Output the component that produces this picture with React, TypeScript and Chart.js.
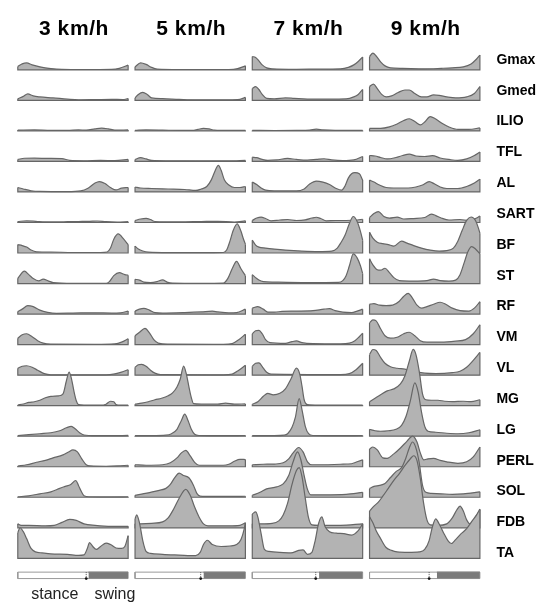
import React, { useEffect, useRef } from "react";
import { Chart, registerables } from "chart.js";

Chart.register(...registerables);

type Curve = [number, number][];

// ---- categories ----
const SPEEDS = ["3 km/h", "5 km/h", "7 km/h", "9 km/h"];
const MUSCLES = ["Gmax", "Gmed", "ILIO", "TFL", "AL", "SART", "BF", "ST", "RF", "VM", "VL", "MG", "LG", "PERL", "SOL", "FDB", "TA"];
const PHASES = ["stance", "swing"];

// ---- EMG envelopes: [% gait cycle, amplitude] per speed ----
const GMAX: Curve[] = [
  [[0,3.3],[4,6],[8,7],[13,5],[20,3],[30,1.3],[40,0.5],[60,0.3],[85,0.5],[92,1.5],[100,4.7]],
  [[0,3],[5,7],[10,5.5],[15,2.5],[20,0.8],[40,0.3],[85,0.3],[93,1.2],[100,4]],
  [[0,13.5],[3,12.5],[6,9],[9,5],[13,2],[18,1],[40,0.5],[60,0.7],[80,1],[87,2.5],[92,5],[96,8.5],[100,13]],
  [[0,13.5],[3,17],[6,14],[10,8],[14,4],[19,2],[30,1.5],[50,1],[65,1.5],[75,2],[85,3],[92,6],[97,11],[100,15]],
];
const GMED: Curve[] = [
  [[0,1.5],[5,4],[9,6.5],[14,4.5],[20,3.5],[32,2.5],[45,1.2],[55,0.5],[70,0.7],[85,1],[95,0.8],[100,1.8]],
  [[0,2.5],[3,6],[7,8],[11,6],[15,2.5],[25,1.7],[40,1],[55,0.5],[85,0.5],[95,1],[100,3]],
  [[0,12],[3,14],[6,11],[9,6],[13,2],[20,1.5],[30,2.5],[38,2],[50,1.3],[70,1.3],[85,1.5],[92,3.5],[96,6],[100,11]],
  [[0,14],[3.5,16.5],[7,12],[11,6],[15,3.5],[20,4.5],[26,8],[32,10.5],[36,10.5],[41,7],[47,3.5],[52,3.5],[58,5.5],[63,5],[70,3.5],[78,2.5],[88,3.5],[95,7],[100,14]],
];
const ILIO: Curve[] = [
  [[0,0.8],[15,1],[30,0.5],[45,0.5],[55,1],[62,0.8],[70,2],[76,2.7],[82,2],[88,0.8],[100,1]],
  [[0,0.5],[10,1],[25,0.8],[40,0.5],[52,0.5],[57,1.5],[62,2.5],[67,2],[72,0.8],[85,0.5],[100,0.5]],
  [[0,0.5],[20,0.4],[40,0.5],[52,0.8],[58,1.7],[64,1],[75,0.5],[100,0.5]],
  [[0,2.5],[10,2.5],[18,4],[25,7],[31,10.5],[36,12.3],[41,9.5],[46,6],[50,9],[55,14.5],[60,12],[66,7.5],[72,4],[80,1.5],[90,1.5],[100,3]],
];
const TFL: Curve[] = [
  [[0,2],[6,3.2],[15,3.3],[28,3],[40,2.8],[47,1],[60,0.6],[75,1],[88,0.8],[100,2]],
  [[0,2],[5,3.8],[10,2.5],[15,1],[30,0.6],[60,0.5],[85,0.5],[100,1]],
  [[0,4.3],[4,3.8],[9,2],[14,1],[22,1.5],[32,3],[40,2],[50,1.3],[58,2],[65,2.7],[72,1.5],[82,0.8],[92,1.5],[100,5]],
  [[0,6],[5,5.5],[10,4],[16,2.5],[24,4],[30,6],[36,7.3],[42,5.5],[50,5],[57,5.8],[64,3.5],[72,2],[80,1],[88,2.5],[95,6],[100,9.5]],
];
const AL: Curve[] = [
  [[0,4.5],[5,3],[12,1.2],[20,0.5],[45,0.3],[57,1],[64,4],[70,9],[74,10.5],[79,8.5],[84,4.5],[89,2],[94,3.8],[100,4.5]],
  [[0,5],[5,4],[15,3.5],[30,3],[45,2.5],[55,1.5],[60,3],[65,5.5],[69,12],[72,20],[75.5,27],[78,22],[81,12],[85,7],[90,4.5],[95,4.5],[100,5.5]],
  [[0,10],[4,7.5],[8,4],[12,1.8],[20,1],[40,1],[47,3],[52,8],[58,11],[64,10],[70,7.5],[76,3.5],[81,1.8],[84,6],[87,14],[90,18.5],[93,19.5],[97,18.5],[100,12]],
  [[0,12],[4,10],[9,7],[15,4.5],[25,4],[35,4],[42,5],[48,7],[54,10.5],[59,8],[64,5],[70,3.5],[80,3.5],[88,5.5],[95,9],[100,13]],
];
const SART: Curve[] = [
  [[0,1],[8,1.6],[18,1],[30,0.6],[45,0.8],[55,1],[65,1.2],[72,1.5],[80,0.8],[90,0.5],[100,0.8]],
  [[0,2],[5,3.5],[10,4.2],[14,3],[18,1],[40,0.7],[60,1],[75,1.2],[90,0.5],[100,1.7]],
  [[0,2],[4,4.5],[8,5.5],[12,4],[17,1.7],[25,2.5],[32,3],[40,2],[48,2.7],[54,4.5],[58,5.3],[62,4],[67,1.7],[75,2],[85,2],[95,2.5],[100,3.3]],
  [[0,5],[4,9],[8,11],[13,6],[18,4.5],[25,5.5],[31,3.5],[40,4],[50,5],[56,8.5],[60,7],[65,4.5],[72,2.5],[82,3],[90,2],[96,4],[100,6.5]],
];
const BF: Curve[] = [
  [[0,8.5],[4,7.5],[8,6],[12,3],[17,1.2],[30,1],[50,0.5],[75,0.5],[81,1],[84,5],[87,14],[91,19.3],[96,14],[100,8.5]],
  [[0,7],[3,4],[7,2],[12,0.8],[30,0.3],[60,0.3],[80,0.5],[83,3],[86,12],[89,23],[92.5,29.5],[96,22],[98,15],[100,9]],
  [[0,13],[3,8],[6,6],[12,5],[20,4],[30,3],[45,2],[60,1.5],[72,2],[77,5],[80,10],[84,18],[88,30],[91.5,37],[95,32],[98,22],[100,13]],
  [[0,21],[3,15],[7,11],[12,9.5],[17,8.5],[22,7],[29,12],[34,10],[40,7.5],[47,5],[55,3],[63,2],[70,2.5],[76,5],[80,12],[84,23],[88,33],[92,36.5],[96,33],[99,24],[100,20]],
];
const ST: Curve[] = [
  [[0,5.3],[6,12.5],[10,9],[14,5],[19,2.7],[23,4.5],[28,2.5],[32,1],[50,0.3],[80,0.3],[83,2],[87,8],[92,11],[97,9],[100,8.5]],
  [[0,4.3],[4,3.5],[8,1.5],[14,1],[20,2],[25,3.7],[29,1.5],[34,0.5],[60,0.3],[80,0.5],[84,5],[88,15],[92,22.5],[96,15],[100,8]],
  [[0,9],[3,6],[6,3.5],[10,2],[20,1.5],[50,1],[78,1.2],[82,3],[85,8],[88,18],[91.5,30],[95,26],[98,18],[100,10]],
  [[0,25],[3,19],[7,14],[10,13.5],[14,15.5],[18,11],[22,6],[27,3],[40,2.5],[52,3],[58,4.5],[64,3],[72,2.5],[78,3.5],[82,9],[86,22],[89,32],[92.5,37.5],[96,35],[100,30]],
];
const RF: Curve[] = [
  [[0,2.5],[4,5],[9,8.5],[14,7.5],[20,4],[27,1.8],[35,0.8],[50,1],[70,1.3],[85,1],[93,1.3],[100,3]],
  [[0,3],[4,5],[8,5.8],[13,4],[18,1.5],[25,1],[45,1.5],[60,2.2],[70,3],[75,2.2],[85,1.2],[92,1.5],[100,5]],
  [[0,6],[5,7.5],[10,5],[14,2],[20,2],[27,2.7],[40,3],[55,3.5],[65,5],[70,5.5],[75,3.5],[82,2],[90,1.5],[95,3],[100,5]],
  [[0,10],[4,10.5],[9,9],[15,8.5],[21,9],[27,13],[31,18],[35,21],[39,16],[43,9],[47,6],[52,7.5],[58,10],[64,12],[69,10],[75,6],[82,3.5],[90,3],[95,6],[100,12.5]],
];
const VM: Curve[] = [
  [[0,6.5],[4,10],[8,11],[13,8],[18,4],[23,1.5],[30,0.5],[70,0.3],[88,0.8],[94,2.5],[100,6]],
  [[0,9],[4,12.5],[9,16.5],[13,12],[17,5],[21,1.5],[30,0.5],[80,0.3],[88,1],[94,5],[100,10.5]],
  [[0,11],[3,14],[6,14.5],[9,11],[12,5],[16,2],[30,1.3],[36,3],[40,3.7],[45,2],[55,1],[80,0.8],[88,1.5],[93,4],[97,8],[100,11.5]],
  [[0,22],[3,25],[6,24],[10,16],[14,9],[19,6.5],[25,7.5],[31,11],[36,12.5],[41,9],[46,4],[52,2.5],[65,2.5],[78,3.5],[87,5],[94,11],[100,20]],
];
const VL: Curve[] = [
  [[0,7],[4,9],[8,9.5],[13,8],[18,5],[24,1.5],[30,0.3],[80,0.3],[88,1.3],[94,3],[100,5.5]],
  [[0,8],[3,10.5],[6,11],[10,9],[14,5],[18,2],[23,0.5],[80,0.3],[88,1],[94,5],[100,10]],
  [[0,9],[3,12],[6,12.5],[10,7],[13,3],[17,1],[80,0.5],[88,1.5],[94,5.5],[100,12]],
  [[0,21],[3,26],[6,25],[10,18],[14,12],[19,8.5],[25,7],[32,6],[40,4],[50,2],[60,1.5],[75,2.5],[82,4],[88,8],[94,15],[100,23]],
];
const MG: Curve[] = [
  [[0,0.7],[5,1.7],[10,3.3],[15,4],[20,5.5],[25,8],[30,9.5],[37,10],[41,12],[44,25],[46.5,34],[48.5,28],[51,14],[53,5],[55,1],[60,0.5],[75,0.5],[80,1.5],[84,4.5],[87,4],[89,1.2],[93,0.5],[100,0.5]],
  [[0,1.5],[6,2.5],[12,4],[18,6],[24,7.5],[30,10],[34,13],[38,19],[41,27],[44,40],[46.5,32],[49,18],[51,8],[53,2],[60,1.5],[75,1.5],[82,2.5],[90,1.5],[100,1.8]],
  [[0,1.5],[5,4],[10,9.5],[14,12.5],[19,11],[25,12.5],[30,17],[35,27],[40,38],[43,32],[45,20],[47,6],[50,1],[60,0.5],[100,0.5]],
  [[0,4],[5,7.5],[10,11],[16,15],[22,17],[28,22],[32,30],[36,45],[39.5,57],[42,52],[45,35],[48,12],[51,6],[56,5.5],[62,5.5],[68,4.5],[75,4],[85,4.5],[92,4],[100,6]],
];
const LG: Curve[] = [
  [[0,0.5],[10,1.5],[20,2.5],[30,3.5],[38,5.5],[44,8.5],[48.5,10],[52,7.5],[56,3.5],[60,1.2],[70,0.5],[85,0.5],[100,0.8]],
  [[0,0.5],[15,0.5],[28,1],[33,2.5],[38,7],[42,16],[45,22.3],[48,16],[51,7],[54,2],[58,0.7],[80,0.5],[100,0.7]],
  [[0,0.5],[20,0.5],[29,1],[32,2.5],[36,9],[39,19],[42.5,38],[45,27],[48,10],[51,2.5],[55,0.7],[80,0.5],[100,0.7]],
  [[0,7],[5,5.5],[10,5],[17,5.5],[24,7],[29,11],[33,20],[37,36],[41,54],[44,45],[47,25],[50,10],[53,5],[60,4],[70,3],[80,2.5],[90,3.5],[100,6.5]],
];
const PERL: Curve[] = [
  [[0,0.7],[8,2],[17,4.5],[25,6.5],[32,9],[41,12],[46,15],[50,17],[54,15],[58,8],[62,2],[66,0.8],[80,0.5],[90,0.8],[100,1.5]],
  [[0,2],[10,1.5],[25,2],[32,4],[38,9],[42,14],[46,16.5],[50,11],[54,4.5],[58,1.5],[70,1.5],[80,1.5],[85,2.5],[90,5.5],[95,7.5],[100,7.3]],
  [[0,2],[10,2.5],[20,2.7],[28,4],[33,8],[37,14],[42,19.5],[46,15],[50,5],[54,2],[65,2],[80,2.5],[90,3],[95,5],[100,7]],
  [[0,18],[3,20],[7,17],[12,9],[16,8.5],[22,13],[28,19],[34,26],[39,31],[43,25],[46,14],[49,7],[53,8],[58,8.5],[64,6.5],[70,5],[80,3.5],[88,5],[94,10],[100,20]],
];
const SOL: Curve[] = [
  [[0,0.5],[10,1.5],[20,3.5],[30,5.5],[38,9],[43,11],[48,13],[52.5,17],[55,12],[57.5,6],[60,1.5],[65,0.5],[85,0.3],[100,0.5]],
  [[0,2],[7,3.5],[14,5],[22,7],[28,9],[32,13],[36,20],[40,24.5],[44,22],[49,19.5],[53,12],[56,4],[59,1.2],[70,0.8],[90,0.8],[100,1]],
  [[0,2],[7,5],[13,8.5],[22,10.5],[28,13.5],[33,22],[37,36],[41,46],[44,38],[47,22],[50,8],[53,2.5],[65,2.5],[85,3],[100,5]],
  [[0,9],[4,11],[9,12],[14,14],[19,20],[24,26],[29,30],[33,40],[36,50],[39,56],[42,50],[45,35],[48,12],[51,5],[56,4],[65,3.5],[75,3],[85,3.5],[100,5.5]],
];
const FDB: Curve[] = [
  [[0,4],[3,2.5],[10,2.5],[25,2],[33,2.5],[40,5.5],[47,8.5],[53,7.5],[60,4],[70,2.5],[85,1.5],[100,1.5]],
  [[0,4],[5,4],[15,4.5],[25,6],[30,10],[35,19],[40,30],[46,39],[50,33],[54,21],[58,11],[62,4],[66,2],[85,2],[95,2.5],[100,5]],
  [[0,4],[8,4],[18,4.5],[24,7],[28,13],[32,25],[36,44],[40,58],[42.5,61],[45,52],[48,30],[51,10],[54,3],[60,2.5],[80,2.5],[100,4]],
  [[0,17],[4,22],[8,26],[12,32],[17,40],[22,48],[27,55],[32,63],[37,70],[40,73],[43,68],[46,50],[49,25],[52,8],[55,3],[62,2.5],[70,4],[75,10],[79,18],[82,22],[85,17],[88,8],[91,4],[95,9],[100,18]],
];
const TA: Curve[] = [
  [[0,26],[2,31],[5,27],[8,20],[12,10],[16,6.5],[22,5.5],[30,4.5],[45,4],[55,3],[60,3.5],[63,10],[65,16],[68,12],[71,9],[75,12],[80,15.5],[84,14],[89,10.5],[94,10],[97,12],[100,23]],
  [[0,40],[1.5,44],[4,36],[7,18],[10,7],[14,5],[25,4],[40,3.3],[55,2.7],[59,6],[62,14],[65.5,18.3],[70,14],[78,12],[86,12.5],[92,14],[96,19],[99,30],[100,36]],
  [[0,45],[3,47],[5,42],[8,25],[11,9],[15,7],[25,6],[35,5.5],[42,8],[46,8.5],[50,4],[54,6],[57,18],[60,35],[63,42],[66,32],[70,27],[76,25.5],[83,25],[90,23.5],[96,28],[100,35]],
  [[0,42],[3,36],[6,28],[10,20],[15,11],[20,8],[25,6.5],[35,6],[45,6.5],[50,9],[54,18],[57,32],[60,40],[63,35],[67,26],[71,18],[74,15],[78,19],[83,25],[88,30],[93,38],[97,44],[100,50]],
];

// gait phase bar: end of stance (toe-off mark) and start of swing shading, % of cycle
const STANCE_END = [62, 59.5, 57.5, 54];
const SWING_START = [64, 62, 60.5, 61];

const ROWS: Curve[][] = [GMAX, GMED, ILIO, TFL, AL, SART, BF, ST, RF, VM, VL, MG, LG, PERL, SOL, FDB, TA];

// ---- layout / style ----
const W = 544;
const H = 606;
const PX_PER_PCT = 1.12;
const COL_STEP = 106.25;
const X_MIN = -12.5;
const X_MAX = X_MIN + W / PX_PER_PCT;
const ROW_STEP = 30.94;
const Y_MAX = 66.7;
const Y_MIN = Y_MAX - H;
const BAR_TOP = -14;
const BAR_BOTTOM = -20.5;
const FILL = "#b3b3b3";
const LINE = "#666666";

function buildDatasets() {
  const ds: any[] = [];
  const NR = MUSCLES.length;
  ROWS.forEach((row, i) => {
    const base = -i * ROW_STEP;
    row.forEach((curve, c) => {
      const x0 = c * COL_STEP;
      ds.push({
        data: curve.map(([p, a]) => ({ x: x0 + p, y: base + a })),
        fill: { value: base },
        backgroundColor: FILL,
        borderColor: LINE,
        borderWidth: 1.2,
        borderJoinStyle: "round",
        pointRadius: 0,
        cubicInterpolationMode: "monotone",
        order: (NR - i) * 10 + 5,
      });
      const first = curve[0][1];
      const last = curve[curve.length - 1][1];
      ds.push({
        data: [
          { x: x0, y: base + first },
          { x: x0, y: base },
          { x: x0 + 100, y: base },
          { x: x0 + 100, y: base + last },
        ],
        fill: false,
        borderColor: LINE,
        borderWidth: 1.2,
        pointRadius: 0,
        tension: 0,
        order: (NR - i) * 10 + 4,
      });
    });
  });
  const lastBase = -(NR - 1) * ROW_STEP;
  const top = lastBase + BAR_TOP;
  const bottom = lastBase + BAR_BOTTOM;
  SPEEDS.forEach((_, c) => {
    const x0 = c * COL_STEP;
    ds.push({
      data: [{ x: x0, y: top }, { x: x0 + 100, y: top }],
      fill: { value: bottom },
      backgroundColor: "#ffffff",
      borderColor: "#9a9a9a",
      borderWidth: 1,
      pointRadius: 0,
      tension: 0,
      order: 4,
    });
    ds.push({
      data: [{ x: x0, y: top }, { x: x0, y: bottom }, { x: x0 + 100, y: bottom }, { x: x0 + 100, y: top }],
      fill: false,
      borderColor: "#9a9a9a",
      borderWidth: 1,
      pointRadius: 0,
      tension: 0,
      order: 3,
    });
    ds.push({
      data: [{ x: x0 + SWING_START[c], y: top }, { x: x0 + 100, y: top }],
      fill: { value: bottom },
      backgroundColor: "#7a7a7a",
      borderColor: "#7a7a7a",
      borderWidth: 1,
      pointRadius: 0,
      tension: 0,
      order: 2,
    });
    ds.push({
      data: [{ x: x0 + STANCE_END[c], y: top }, { x: x0 + STANCE_END[c], y: bottom }],
      fill: false,
      borderColor: "#555555",
      borderWidth: 1,
      borderDash: [1, 1],
      pointRadius: [0, 1.4],
      pointBackgroundColor: "#111111",
      pointBorderWidth: 0,
      tension: 0,
      order: 1,
    });
  });
  return ds;
}

const textPlugin = {
  id: "gridText",
  afterDraw(chart: any) {
    const { ctx } = chart;
    const xs = chart.scales.x;
    const ys = chart.scales.y;
    const NR = MUSCLES.length;
    ctx.save();
    ctx.fillStyle = "#000";
    // column titles
    ctx.font = 'bold 21px "Liberation Sans", Arial, sans-serif';
    ctx.textAlign = "center";
    ctx.textBaseline = "alphabetic";
    try { (ctx as any).letterSpacing = "0.6px"; } catch (e) {}
    SPEEDS.forEach((s, c) => {
      ctx.fillText(s, xs.getPixelForValue(c * COL_STEP + 50) + 1, ys.getPixelForValue(35));
    });
    try { (ctx as any).letterSpacing = "0px"; } catch (e) {}
    // muscle labels
    ctx.font = 'bold 14px "Liberation Sans", Arial, sans-serif';
    ctx.textAlign = "left";
    ctx.textBaseline = "middle";
    const lx = xs.getPixelForValue(3 * COL_STEP + 100) + 16.5;
    MUSCLES.forEach((m, i) => {
      const y = ys.getPixelForValue(-i * ROW_STEP) - 10 + (5 * i) / (NR - 1);
      ctx.fillText(m, lx, y);
    });
    // phase labels
    ctx.font = '16px "Liberation Sans", Arial, sans-serif';
    ctx.fillStyle = "#222";
    ctx.textAlign = "center";
    ctx.textBaseline = "alphabetic";
    const ly = ys.getPixelForValue(-(NR - 1) * ROW_STEP - 41.5);
    ctx.fillText(PHASES[0], xs.getPixelForValue(33.5), ly);
    ctx.fillText(PHASES[1], xs.getPixelForValue(88), ly);
    ctx.restore();
  },
};

export default function App() {
  const ref = useRef<HTMLCanvasElement>(null);
  useEffect(() => {
    if (!ref.current) return;
    const chart = new Chart(ref.current, {
      type: "line",
      data: { datasets: buildDatasets() },
      options: {
        responsive: false,
        animation: false,
        devicePixelRatio: 1,
        events: [],
        layout: { padding: 0 },
        plugins: {
          legend: { display: false },
          tooltip: { enabled: false },
          title: { display: false },
        },
        scales: {
          x: { type: "linear", min: X_MIN, max: X_MAX, display: false },
          y: { type: "linear", min: Y_MIN, max: Y_MAX, display: false },
        },
      },
      plugins: [textPlugin],
    } as any);
    return () => chart.destroy();
  }, []);
  return (
    <div style={{ position: "fixed", left: 0, top: 0, width: W, height: H, background: "#fff" }}>
      <canvas ref={ref} width={W} height={H} style={{ display: "block", width: W, height: H }} />
    </div>
  );
}
